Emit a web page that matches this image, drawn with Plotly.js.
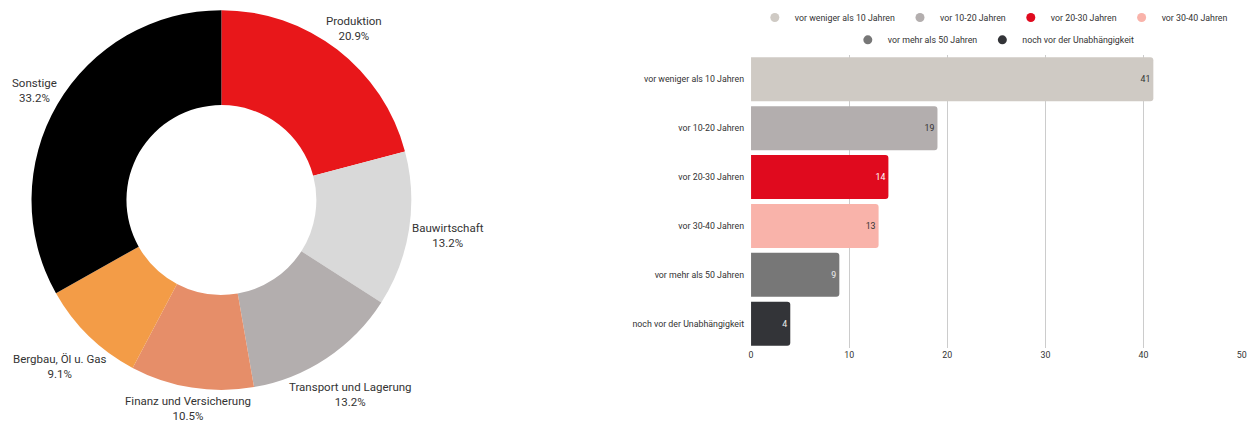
<!DOCTYPE html>
<html>
<head>
<meta charset="utf-8">
<script src="https://cdn.plot.ly/plotly-3.0.1.min.js"></script>
<style>html,body{margin:0;padding:0;background:#fff;}#chart{width:1258px;height:422px;}</style>
</head>
<body>
<div id="chart"></div>
<script>
// Pie data
const pieLabels = ["Produktion", "Bauwirtschaft", "Transport und Lagerung", "Finanz und Versicherung", "Bergbau, Öl u. Gas", "Sonstige"];
const pieValues = [20.9, 13.2, 13.2, 10.5, 9.1, 33.2];
const pieColors = ["#E8171A", "#D9D9D9", "#B3AEAE", "#E68E69", "#F39C47", "#000000"];

// Bar data
const barCategories = ["vor weniger als 10 Jahren", "vor 10-20 Jahren", "vor 20-30 Jahren", "vor 30-40 Jahren", "vor mehr als 50 Jahren", "noch vor der Unabhängigkeit"];
const barValues = [41, 19, 14, 13, 9, 4];
const barColors = ["#CFCAC4", "#B3AEAE", "#E00A1E", "#F9B3AA", "#777777", "#333438"];
const barTextColors = ["#333333", "#333333", "#FFFFFF", "#333333", "#EEEEEE", "#EEEEEE"];
const xTicks = [0, 10, 20, 30, 40, 50];

const FONT = "Roboto, 'Noto Sans', sans-serif";
const PIE_FS = 11.5;
const BAR_FS = 8.8;

const traces = [];
traces.push({
  type: "pie",
  labels: pieLabels,
  values: pieValues,
  marker: {colors: pieColors, line: {width: 0}},
  hole: 0.5,
  sort: false,
  direction: "clockwise",
  rotation: 0,
  textinfo: "none",
  domain: {x: [0.0, 0.352], y: [0.076, 0.976]},
  showlegend: false,
  hoverinfo: "label+percent"
});

barCategories.forEach((c, i) => {
  traces.push({
    type: "bar",
    orientation: "h",
    y: [c],
    x: [barValues[i]],
    marker: {color: barColors[i]},
    text: [String(barValues[i])],
    textposition: "inside",
    insidetextanchor: "end",
    textfont: {family: FONT, size: BAR_FS, color: barTextColors[i]},
    showlegend: false,
    xaxis: "x", yaxis: "y"
  });
  traces.push({
    type: "scatter",
    mode: "markers",
    x: [null], y: [null],
    name: c,
    marker: {color: barColors[i], size: 9, symbol: "circle"},
    legend: i < 4 ? "legend" : "legend2",
    xaxis: "x", yaxis: "y",
    hoverinfo: "skip"
  });
});

const layout = {
  width: 1258, height: 422,
  margin: {l: 0, r: 0, t: 0, b: 0},
  paper_bgcolor: "#FFFFFF",
  plot_bgcolor: "#FFFFFF",
  font: {family: FONT, size: BAR_FS, color: "#333333"},
  barmode: "overlay",
  bargap: 0.1,
  barcornerradius: 3,
  xaxis: {
    domain: [0.597, 0.987],
    range: [0, 50],
    tickvals: xTicks,
    showgrid: true, gridcolor: "#CCCCCC", gridwidth: 1,
    zeroline: false, showline: false,
    ticks: "", tickfont: {size: BAR_FS, color: "#333333"},
    fixedrange: true
  },
  yaxis: {
    domain: [0.175, 0.87],
    type: "category",
    categoryorder: "array",
    categoryarray: barCategories.slice().reverse(),
    autorange: true,
    showgrid: false, zeroline: false, showline: false,
    ticks: "", ticklabelstandoff: 6,
    tickfont: {size: BAR_FS, color: "#333333"},
    fixedrange: true
  },
  legend: {
    orientation: "h", x: 0.79, xanchor: "center", y: 0.993, yanchor: "top",
    font: {size: BAR_FS, color: "#333333"}, bgcolor: "rgba(0,0,0,0)", itemwidth: 30
  },
  legend2: {
    orientation: "h", x: 0.79, xanchor: "center", y: 0.94, yanchor: "top",
    font: {size: BAR_FS, color: "#333333"}, bgcolor: "rgba(0,0,0,0)", itemwidth: 30
  }
};

const gd = document.getElementById("chart");
Plotly.newPlot(gd, traces, layout, {displayModeBar: false, staticPlot: true}).then(() => {
  // Outside pie labels, placed along each slice's mid-angle using the pie geometry Plotly computed
  const cd0 = gd.calcdata[0][0];
  const cx = cd0.cx, cy = cd0.cy, R = cd0.r;
  const gs = gd._fullLayout._size;
  const ctx = document.createElement("canvas").getContext("2d");
  ctx.font = PIE_FS + "px Roboto";
  const total = pieValues.reduce((a, b) => a + b, 0);
  let cum = 0;
  const annotations = pieLabels.map((lab, i) => {
    const v = pieValues[i];
    const theta = 2 * Math.PI * (cum + v / 2) / total;
    cum += v;
    const txt = lab + "<br>" + v.toFixed(1) + "%";
    const w = Math.max(ctx.measureText(lab).width, ctx.measureText(v.toFixed(1) + "%").width);
    const h = PIE_FS * 1.5;
    const s = Math.sin(theta), c = Math.cos(theta);
    const rc = R + 3 + Math.abs(s) * w / 2 + Math.abs(c) * h / 2;
    const px = cx + rc * s, py = cy - rc * c;
    return {
      xref: "paper", yref: "paper",
      x: (px - gs.l) / gs.w, y: 1 - (py - gs.t) / gs.h,
      xanchor: "center", yanchor: "middle",
      text: txt, showarrow: false, align: "center",
      font: {family: FONT, size: PIE_FS, color: "#333333"}
    };
  });
  return Plotly.relayout(gd, {annotations: annotations});
});
</script>
</body>
</html>
